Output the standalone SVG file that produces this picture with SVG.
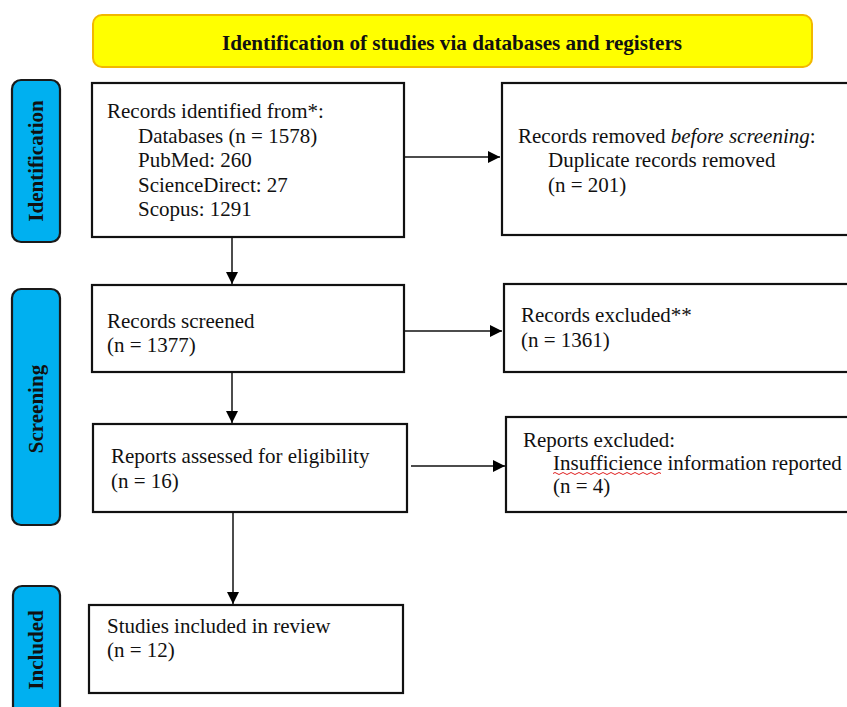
<svg xmlns="http://www.w3.org/2000/svg" width="847" height="707" viewBox="0 0 847 707">
<defs>
<marker id="ah" markerWidth="12" markerHeight="12" refX="12" refY="6" orient="auto" markerUnits="userSpaceOnUse"><path d="M0,0 L12,6 L0,12 Z" fill="#000"/></marker>
<style>
.box{fill:#fff;stroke:#111;stroke-width:2.2}
.side{fill:#00b0f0;stroke:#1a1a1a;stroke-width:2.2}
.t{font-family:"Liberation Serif","Times New Roman",serif;font-size:21px;fill:#111}
.s{font-family:"Liberation Serif","Times New Roman",serif;font-size:21px;font-weight:bold;fill:#111}
.c{stroke:#111;stroke-width:1.5;fill:none;marker-end:url(#ah)}
</style>
</defs>
<rect width="847" height="707" fill="#fff"/>
<g id="banner">
<rect x="93" y="15" width="719" height="52" rx="9" fill="#ffff00" stroke="#f2b800" stroke-width="2"/>
<text x="452" y="50" text-anchor="middle" font-family="Liberation Serif,serif" font-weight="bold" font-size="21" textLength="460" lengthAdjust="spacingAndGlyphs" fill="#111">Identification of studies via databases and registers</text>
</g>
<g id="side-identification">
<rect class="side" x="12" y="80" width="48" height="162" rx="9"/>
<text class="s" transform="translate(43,161) rotate(-90)" text-anchor="middle">Identification</text>
</g>
<g id="side-screening">
<rect class="side" x="12" y="289" width="48" height="236" rx="9"/>
<text class="s" transform="translate(43,409) rotate(-90)" text-anchor="middle">Screening</text>
</g>
<g id="side-included">
<rect class="side" x="13" y="586" width="47" height="140" rx="9"/>
<text class="s" transform="translate(43,650) rotate(-90)" text-anchor="middle">Included</text>
</g>
<g id="records-identified">
<rect class="box" x="92" y="83" width="312" height="154"/>
<text class="t" x="107" y="118">Records identified from*:</text>
<text class="t" x="138" y="143">Databases (n = 1578)</text>
<text class="t" x="138" y="167">PubMed: 260</text>
<text class="t" x="138" y="192">ScienceDirect: 27</text>
<text class="t" x="138" y="216">Scopus: 1291</text>
</g>
<g id="records-removed">
<rect class="box" x="502" y="83" width="360" height="152"/>
<text class="t" x="518" y="143">Records removed <tspan font-style="italic">before screening</tspan>:</text>
<text class="t" x="548" y="167">Duplicate records removed</text>
<text class="t" x="548" y="192">(n = 201)</text>
</g>
<g id="records-screened">
<rect class="box" x="92" y="285" width="312" height="87"/>
<text class="t" x="107" y="328">Records screened</text>
<text class="t" x="107" y="352">(n = 1377)</text>
</g>
<g id="records-excluded">
<rect class="box" x="504" y="284" width="360" height="88"/>
<text class="t" x="521" y="322">Records excluded**</text>
<text class="t" x="521" y="347">(n = 1361)</text>
</g>
<g id="reports-assessed">
<rect class="box" x="93" y="424" width="314" height="88"/>
<text class="t" x="111" y="463">Reports assessed for eligibility</text>
<text class="t" x="111" y="488">(n = 16)</text>
</g>
<g id="reports-excluded">
<rect class="box" x="506" y="417" width="360" height="95"/>
<text class="t" x="523" y="447">Reports excluded:</text>
<text class="t" x="553" y="470">Insufficience information reported</text>
<text class="t" x="553" y="493">(n = 4)</text>
<path d="M553,473.5 q2,-2 4,0 t4,0 t4,0 t4,0 t4,0 t4,0 t4,0 t4,0 t4,0 t4,0 t4,0 t4,0 t4,0 t4,0 t4,0 t4,0 t4,0 t4,0 t4,0 t4,0 t4,0 t4,0 t4,0 t4,0 t4,0 t4,0 t4,0" fill="none" stroke="#e02020" stroke-width="1"/>
</g>
<g id="studies-included">
<rect class="box" x="89" y="605" width="314" height="88"/>
<text class="t" x="107" y="633">Studies included in review</text>
<text class="t" x="107" y="657">(n = 12)</text>
</g>
<g id="connectors">
<line class="c" x1="404" y1="157" x2="500" y2="157"/>
<line class="c" x1="232" y1="237" x2="232" y2="284"/>
<line class="c" x1="404" y1="331" x2="502" y2="331"/>
<line class="c" x1="232" y1="372" x2="232" y2="423"/>
<line class="c" x1="411" y1="466" x2="505" y2="466"/>
<line class="c" x1="233" y1="512" x2="233" y2="604"/>
</g>
</svg>
